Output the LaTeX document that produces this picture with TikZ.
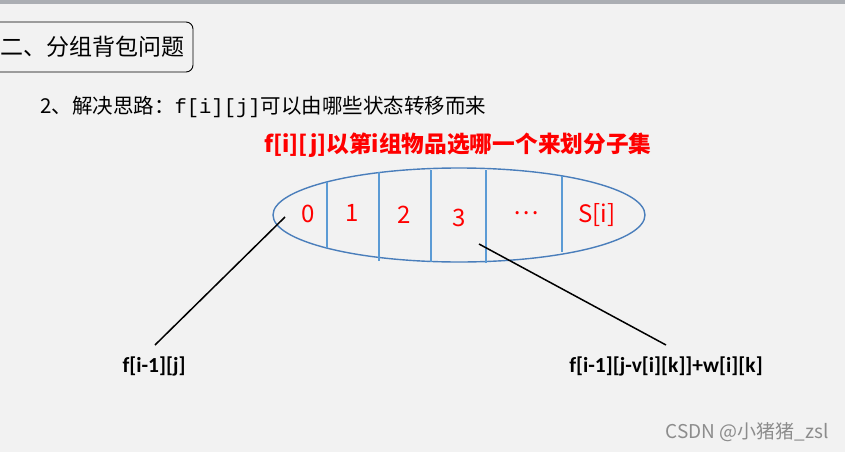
\documentclass[tikz,border=0pt]{standalone}
\usepackage{fontspec}
\setmainfont{Liberation Serif}
\newfontfamily\cjk{Noto Sans CJK SC}
\newfontfamily\calib{Carlito}
\newfontfamily\mono{Liberation Mono}
\definecolor{bg}{HTML}{F2F2F2}
\definecolor{topbar}{HTML}{ABAEB3}
\definecolor{ellblue}{HTML}{4A7EBB}
\definecolor{linblue}{HTML}{5B9BD5}
\definecolor{redtxt}{HTML}{FF0000}
\definecolor{wm}{HTML}{8C8C8C}
\tikzset{
  num/.style={text=redtxt, font=\cjk\fontsize{24}{26}\selectfont, inner sep=0pt, anchor=center},
  divider/.style={draw=linblue, line width=1.3pt},
  pointer/.style={draw=black, line width=1.5pt},
  lbl/.style={font=\calib\bfseries\fontsize{21.5}{24}\selectfont, inner sep=0pt, text=black},
}
\begin{document}
\begin{tikzpicture}[x=1pt,y=-1pt]
\useasboundingbox (0,0) rectangle (845,452);
\fill[bg] (0,0) rectangle (845,452);
\fill[topbar] (0,0) rectangle (845,4);
% title box
\draw[black, line width=0.9pt, rounded corners=7pt] (-12,22) rectangle (193,72);
\node[inner sep=0pt, font=\cjk\fontsize{23}{25}\selectfont] (title) at (92,47) {二、分组背包问题};
% line 2
\node[inner sep=0pt, anchor=west, font=\cjk\fontsize{20.5}{23}\selectfont] (line2) at (40,107) {2、解决思路：{\mono f[i][j]}可以由哪些状态转移而来};
% red heading
\node[inner sep=0pt, anchor=center, text=redtxt, font=\cjk\bfseries\fontsize{22.7}{25}\selectfont] (head) at (458,145) {f[i][j]以第i组物品选哪一个来划分子集};
% ellipse
\draw[draw=ellblue, line width=1.4pt] (459,215) ellipse [x radius=186, y radius=47];
\draw[divider] (327,182) -- (327,248);
\draw[divider] (379,172) -- (379,261);
\draw[divider] (431,170) -- (431,262);
\draw[divider] (486,170) -- (486,263);
\draw[divider] (562,176) -- (562,252);
\node[num] (n0) at (308,214) {0};
\node[num] (n1) at (352,213) {1};
\node[num] (n2) at (404,215) {2};
\node[num] (n3) at (459,218) {3};
\node[num] (ndots) at (526,213) {…};
\node[num] (ns) at (597,215) {S[i]};
% labels
\node[lbl] (left) at (154,366) {f[i-1][j]};
\node[lbl] (right) at (666,366) {f[i-1][j-v[i][k]]+w[i][k]};
\coordinate (p0) at (285,217);
\coordinate (q0) at (155,345);
\coordinate (p3) at (479,244);
\coordinate (q3) at (666,345);
\draw[pointer] (p0) -- (q0);
\draw[pointer] (p3) -- (q3);
% watermark
\node[inner sep=0pt, text=wm, font=\cjk\fontsize{19}{21}\selectfont] (wmk) at (747,432) {CSDN @小猪猪\_zsl};
\end{tikzpicture}
\end{document}
